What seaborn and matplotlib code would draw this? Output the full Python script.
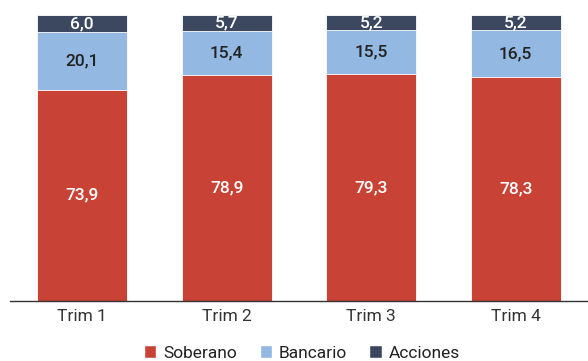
import matplotlib
matplotlib.use("Agg")
import matplotlib.pyplot as plt
import seaborn as sns
import numpy as np
import pandas as pd
from matplotlib.patches import Patch

categories = ["Trim 1", "Trim 2", "Trim 3", "Trim 4"]
soberano = [73.9, 78.9, 79.3, 78.3]
bancario = [20.1, 15.4, 15.5, 16.5]
acciones = [6.0, 5.7, 5.2, 5.2]

c_sob = "#C84236"
c_ban = "#93B8E1"
c_acc = "#3C4760"

sns.set_theme(style="white")
plt.rcParams["font.family"] = ["Roboto", "DejaVu Sans"]

df = pd.DataFrame({"cat": categories, "sob": soberano, "ban": bancario, "acc": acciones})
df["top2"] = df["sob"] + df["ban"]
df["top3"] = df["top2"] + df["acc"]

fig = plt.figure(figsize=(5.88, 3.61), dpi=100)
ax = fig.add_axes([10/588, 1 - 301/361, 578/588, 286/361])

w = 0.62
sns.barplot(data=df, x="cat", y="top3", color=c_acc, width=w, ax=ax, saturation=1, edgecolor="white", linewidth=0.6)
sns.barplot(data=df, x="cat", y="top2", color=c_ban, width=w, ax=ax, saturation=1, edgecolor="white", linewidth=0.6)
sns.barplot(data=df, x="cat", y="sob", color=c_sob, width=w, ax=ax, saturation=1, edgecolor="white", linewidth=0.6)

def fmt(v):
    return f"{v:.1f}".replace(".", ",")

fs = 12.5
for i in range(len(categories)):
    s, b, a = soberano[i], bancario[i], acciones[i]
    ax.text(i, s / 2, fmt(s), ha="center", va="center", color="white", fontsize=fs, fontweight="medium")
    ax.text(i, s + b / 2, fmt(b), ha="center", va="center", color="#222222", fontsize=fs, fontweight="medium")
    ax.text(i, s + b + a / 2, fmt(a), ha="center", va="center", color="white", fontsize=fs, fontweight="medium")

ax.set_xlim(-0.5, 3.5)
ax.set_ylim(0, 100)
ax.set_xlabel("")
ax.set_ylabel("")
ax.set_yticks([])
for sp in ["top", "right", "left"]:
    ax.spines[sp].set_visible(False)
ax.spines["bottom"].set_color("#333333")
ax.spines["bottom"].set_linewidth(1.0)
ax.tick_params(axis="x", length=0, labelsize=fs, colors="#333333", pad=6)

handles = [Patch(facecolor=c_sob, label="Soberano"),
           Patch(facecolor=c_ban, label="Bancario"),
           Patch(facecolor=c_acc, label="Acciones")]
fig.legend(handles=handles, loc="center", bbox_to_anchor=(302/588, 1 - 353/361), ncol=3,
           frameon=False, fontsize=fs, handlelength=0.7, handleheight=0.7,
           handletextpad=0.4, columnspacing=1.3, labelcolor="#222222")

fig.savefig("out.png", dpi=100)
